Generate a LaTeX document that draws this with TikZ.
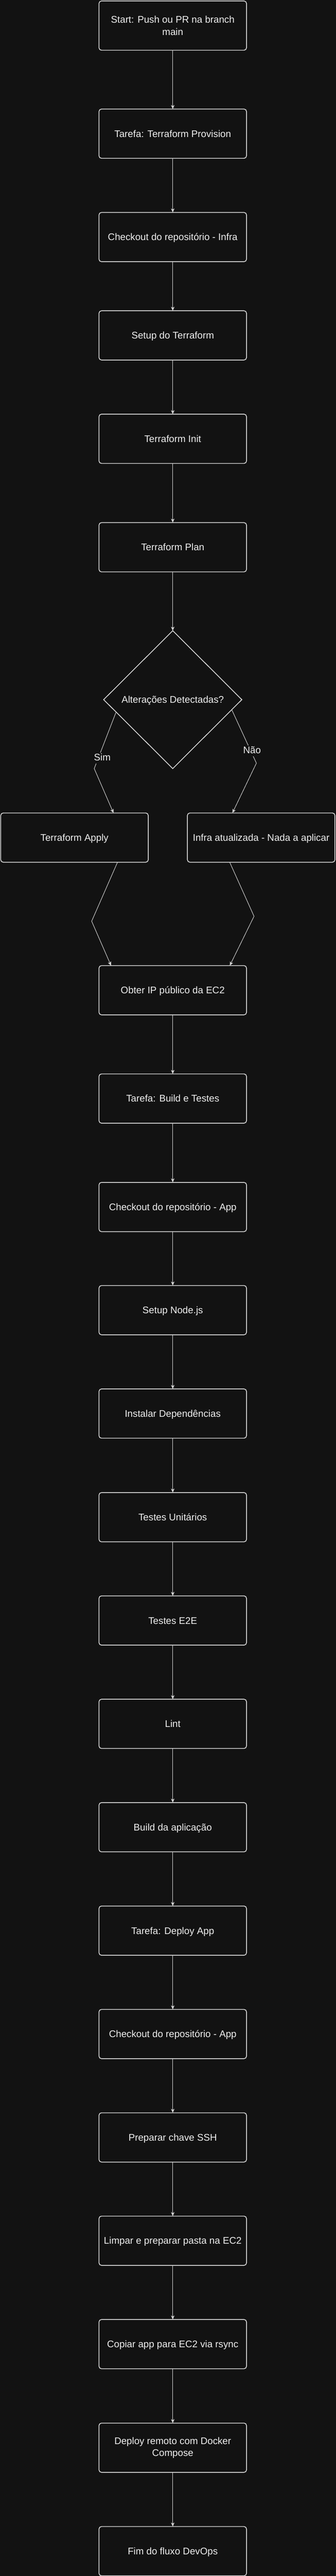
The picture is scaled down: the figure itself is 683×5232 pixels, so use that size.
\documentclass[tikz,border=0pt]{standalone}
\usepackage{fontspec}
\setmainfont{Liberation Sans}
\usetikzlibrary{shapes.geometric,arrows.meta,calc}
\definecolor{bgc}{RGB}{18,18,18}
\definecolor{strokec}{RGB}{222,222,222}
\definecolor{edgec}{RGB}{212,212,212}
\definecolor{textc}{RGB}{240,240,240}
\newcommand\boxfont{\fontsize{19.6}{24.5}\selectfont}
\begin{document}
\begin{tikzpicture}[x=1pt,y=-1pt,
  box/.style={draw=strokec, line width=1.5pt, rounded corners=5pt, fill=bgc,
    minimum width=300pt, minimum height=100pt, inner sep=0pt, outer sep=0pt,
    text=textc, font=\boxfont, text height=14pt, text depth=0pt},
  twoline/.style={draw=strokec, line width=1.5pt, rounded corners=5pt, fill=bgc,
    minimum width=300pt, minimum height=100pt, inner sep=0pt, outer sep=0pt,
    text=textc, font=\boxfont, align=center},
  decision/.style={diamond, draw=strokec, line width=1.5pt, fill=bgc,
    minimum width=281pt, minimum height=280pt, inner sep=0pt, outer sep=0pt,
    text=textc, font=\boxfont, text height=14pt, text depth=0pt},
  conn/.style={draw=edgec, line width=1pt, -{Stealth[length=8pt,width=7pt,inset=2pt]}},
  lbl/.style={fill=bgc, text=textc, font=\boxfont, inner sep=2pt, text height=14pt, text depth=4pt}
]
\fill[bgc] (0,0) rectangle (683,5232);
\useasboundingbox (0,0) rectangle (683,5232);

\node[twoline] (start) at (351.3,52) {Start: Push ou PR na branch\\main};
\node[box] (tprov) at (351.3,271.5) {Tarefa: Terraform Provision};
\node[box] (coinfra) at (351.3,481.5) {Checkout do repositório - Infra};
\node[box] (setuptf) at (351.3,681.2) {Setup do Terraform};
\node[box] (tfinit) at (351.3,891.2) {Terraform Init};
\node[box] (tfplan) at (351.3,1111.5) {Terraform Plan};
\node[decision] (dec) at (351.3,1421) {Alterações Detectadas?};
\node[box] (apply) at (151.5,1701.2) {Terraform Apply};
\node[box] (infra) at (531.1,1701.2) {Infra atualizada - Nada a aplicar};
\node[box] (obter) at (351.3,2011.2) {Obter IP público da EC2};
\node[box] (tbuild) at (351.3,2231.2) {Tarefa: Build e Testes};
\node[box] (coapp) at (351.3,2451.5) {Checkout do repositório - App};
\node[box] (setupnode) at (351.3,2661) {Setup Node.js};
\node[box] (deps) at (351.3,2871) {Instalar Dependências};
\node[box] (unit) at (351.3,3081.5) {Testes Unitários};
\node[box] (e2e) at (351.3,3291.3) {Testes E2E};
\node[box] (lint) at (351.3,3501.2) {Lint};
\node[box] (buildapp) at (351.3,3711.2) {Build da aplicação};
\node[box] (tdeploy) at (351.3,3921.2) {Tarefa: Deploy App};
\node[box] (coapp2) at (351.3,4131.2) {Checkout do repositório - App};
\node[box] (ssh) at (351.3,4341.2) {Preparar chave SSH};
\node[box] (limpar) at (351.3,4551) {Limpar e preparar pasta na EC2};
\node[box] (copiar) at (351.3,4761) {Copiar app para EC2 via rsync};
\node[twoline] (deploy) at (351.3,4971.4) {Deploy remoto com Docker\\Compose};
\node[box] (fim) at (351.3,5181.5) {Fim do fluxo DevOps};

\draw[conn] (start) -- (tprov);
\draw[conn] (tprov) -- (coinfra);
\draw[conn] (coinfra) -- (setuptf);
\draw[conn] (setuptf) -- (tfinit);
\draw[conn] (tfinit) -- (tfplan);
\draw[conn] (tfplan) -- (dec);

\draw[conn] ($(dec.west)!0.18!(dec.south)$) -- (191.6,1561) -- ([xshift=79.3pt]apply.north);
\node[lbl] (sim) at (208,1540) {Sim};
\draw[conn] ($(dec.east)!0.146!(dec.south)$) -- (521.4,1550) -- ([xshift=-58.5pt]infra.north);
\node[lbl] (nao) at (512.6,1525.5) {Não};

\draw[conn] ([xshift=87.5pt]apply.south) -- (186.4,1871) -- ([xshift=-125.5pt]obter.north);
\draw[conn] ([xshift=-64pt]infra.south) -- (516.6,1861) -- ([xshift=116pt]obter.north);

\draw[conn] (obter) -- (tbuild);
\draw[conn] (tbuild) -- (coapp);
\draw[conn] (coapp) -- (setupnode);
\draw[conn] (setupnode) -- (deps);
\draw[conn] (deps) -- (unit);
\draw[conn] (unit) -- (e2e);
\draw[conn] (e2e) -- (lint);
\draw[conn] (lint) -- (buildapp);
\draw[conn] (buildapp) -- (tdeploy);
\draw[conn] (tdeploy) -- (coapp2);
\draw[conn] (coapp2) -- (ssh);
\draw[conn] (ssh) -- (limpar);
\draw[conn] (limpar) -- (copiar);
\draw[conn] (copiar) -- (deploy);
\draw[conn] (deploy) -- (fim);
\end{tikzpicture}
\end{document}
